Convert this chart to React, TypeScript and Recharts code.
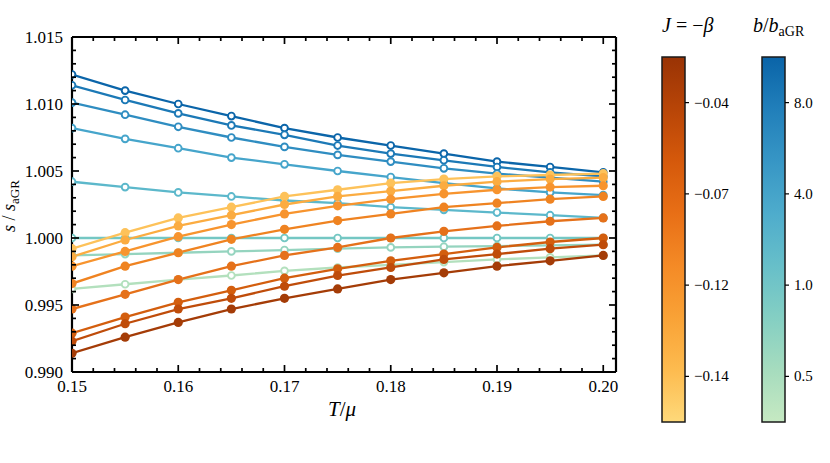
import React from 'react';
import { LineChart, Line, XAxis, YAxis } from 'recharts';

// temperature grid T/mu
const temps = [0.15, 0.155, 0.16, 0.165, 0.17, 0.175, 0.18, 0.185, 0.19, 0.195, 0.2];

// open circles, coloured by b/b_aGR (dark blue -> light green)
const b1 = [1.0122, 1.011, 1.01, 1.0091, 1.0082, 1.0075, 1.0069, 1.0063, 1.0057, 1.0053, 1.0049];
const b2 = [1.0114, 1.0103, 1.0093, 1.0084, 1.0077, 1.0069, 1.0063, 1.0058, 1.0053, 1.0049, 1.0046];
const b3 = [1.0101, 1.0092, 1.0083, 1.0075, 1.0068, 1.0062, 1.0057, 1.0052, 1.0048, 1.0045, 1.0042];
const b4 = [1.0082, 1.0074, 1.0067, 1.006, 1.0055, 1.005, 1.00455, 1.0041, 1.0037, 1.0034, 1.0032];
const b5 = [1.0042, 1.0038, 1.0034, 1.0031, 1.0028, 1.0026, 1.0023, 1.0021, 1.0019, 1.0017, 1.0015];
const b6 = [1.0, 1.0, 1.0, 1.0, 1.0, 1.0, 1.0, 1.0, 1.0, 1.0, 1.0];
const b7 = [0.9987, 0.9988, 0.9989, 0.999, 0.9991, 0.9992, 0.9993, 0.99935, 0.9994, 0.99945, 0.9995];
const b8 = [0.9962, 0.99655, 0.9969, 0.9972, 0.99755, 0.9978, 0.998, 0.9982, 0.9984, 0.99855, 0.9987];

// filled circles, coloured by J = -beta (light yellow -> dark brown)
const j1 = [0.9992, 1.0004, 1.0015, 1.0023, 1.0031, 1.0036, 1.0041, 1.0044, 1.0046, 1.0047, 1.0048];
const j2 = [0.9986, 0.99985, 1.0009, 1.0017, 1.0025, 1.0031, 1.0035, 1.0039, 1.0042, 1.0044, 1.0045];
const j3 = [0.9979, 0.999, 1.0001, 1.001, 1.0018, 1.0024, 1.0029, 1.0033, 1.0036, 1.0038, 1.0039];
const j4 = [0.9966, 0.9979, 0.9989, 0.9999, 1.00065, 1.0013, 1.0018, 1.0023, 1.0026, 1.0029, 1.0031];
const j5 = [0.9947, 0.9958, 0.9969, 0.9979, 0.9987, 0.9993, 1.0, 1.0005, 1.0009, 1.00125, 1.0015];
const j6 = [0.9929, 0.9941, 0.9952, 0.9961, 0.997, 0.9977, 0.9983, 0.9988, 0.9993, 0.9997, 1.0];
const j7 = [0.9923, 0.9936, 0.9947, 0.9955, 0.9964, 0.9972, 0.9978, 0.9984, 0.9988, 0.9992, 0.9995];
const j8 = [0.9914, 0.9926, 0.9937, 0.9947, 0.9955, 0.9962, 0.9969, 0.9974, 0.9979, 0.9983, 0.9987];

const bColors = ['#0b65a9', '#1c79b6', '#2f8dc1', '#46a5cb', '#5cb8cb', '#74c7c3', '#95d4bf', '#b3e0bd'];
const jColors = ['#fdc25a', '#fbac41', '#f7942e', '#ef8321', '#e5711a', '#d35e0e', '#bf4c0a', '#a43c07'];

const xMajor = [0.15, 0.16, 0.17, 0.18, 0.19, 0.2];
const xTickLabels = ['0.15', '0.16', '0.17', '0.18', '0.19', '0.20'];
const yMajor = [0.99, 0.995, 1.0, 1.005, 1.01, 1.015];
const yTickLabels = ['0.990', '0.995', '1.000', '1.005', '1.010', '1.015'];

const jTicks = ['\u22120.04', '\u22120.07', '\u22120.12', '\u22120.14'];
const bTicks = ['8.0', '4.0', '1.0', '0.5'];

const bSeries = [b1, b2, b3, b4, b5, b6, b7, b8];
const jSeries = [j1, j2, j3, j4, j5, j6, j7, j8];

const rows = temps.map((t, i) => {
    const row: Record<string, number> = { T: t };
    bSeries.forEach((s, k) => { row[`b${k}`] = s[i]; });
    jSeries.forEach((s, k) => { row[`j${k}`] = s[i]; });
    return row;
});

// minor ticks every 0.002 on x and 0.001 on y
const xTicks: number[] = [];
for (let k = 0; k <= 25; k++) xTicks.push(+(0.15 + k * 0.002).toFixed(4));
const yTicks: number[] = [];
for (let k = 0; k <= 25; k++) yTicks.push(+(0.99 + k * 0.001).toFixed(4));

const X_DOMAIN: [number, number] = [0.15, 0.2012];
const Y_DOMAIN: [number, number] = [0.99, 1.015];

const majorIndex = (v: number, majors: number[]) => majors.findIndex(m => Math.abs(m - v) < 1e-9);

const FONT = '"Liberation Serif", "DejaVu Serif", serif';

// inward tick marks (drawn by the thin frame axes)
const makeTickMark = (side: 'bottom' | 'top' | 'left' | 'right') => (props: any) => {
    const { x, y, payload } = props;
    const majors = side === 'bottom' || side === 'top' ? xMajor : yMajor;
    const len = majorIndex(payload.value, majors) >= 0 ? 7 : 4;
    let x2 = x, y2 = y;
    if (side === 'bottom') y2 = y - len;
    if (side === 'top') y2 = y + len;
    if (side === 'left') x2 = x + len;
    if (side === 'right') x2 = x - len;
    return <path d={`M${x},${y}L${x2},${y2}`} stroke="#000" strokeWidth={1.7} fill="none" />;
};

const XLabelTick = (props: any) => {
    const { x, y, payload } = props;
    const idx = majorIndex(payload.value, xMajor);
    if (idx < 0) return <g />;
    return <text x={x} y={y + 19} textAnchor="middle" fontFamily={FONT} fontSize={17} fill="#000">{xTickLabels[idx]}</text>;
};

const YLabelTick = (props: any) => {
    const { x, y, payload } = props;
    const idx = majorIndex(payload.value, yMajor);
    if (idx < 0) return <g />;
    return <text x={x - 8} y={y + 6} textAnchor="end" fontFamily={FONT} fontSize={17} fill="#000">{yTickLabels[idx]}</text>;
};

const frameLine = { stroke: '#000', strokeWidth: 2.2 };

const BAR_TOP = 57;
const BAR_H = 365;
const BAR_W = 23;

const ColorBar: React.FC<{ x: number; id: string; stops: string[]; labels: string[] }> = ({ x, id, stops, labels }) => (
    <g>
        <defs>
            <linearGradient id={id} x1="0" y1="0" x2="0" y2="1">
                {stops.map((c, i) => (
                    <stop key={i} offset={i / (stops.length - 1)} stopColor={c} />
                ))}
            </linearGradient>
        </defs>
        <rect x={x} y={BAR_TOP} width={BAR_W} height={BAR_H} fill={`url(#${id})`} stroke="#1a1a1a" strokeWidth={1.5} />
        {labels.map((l, i) => {
            const ty = BAR_TOP + (BAR_H * (2 * i + 1)) / 8;
            return (
                <g key={l}>
                    <line x1={x + BAR_W} y1={ty} x2={x + BAR_W + 4} y2={ty} stroke="#000" strokeWidth={1.2} />
                    <text x={x + BAR_W + 9} y={ty + 5} fontFamily={FONT} fontSize={15} fill="#000">{l}</text>
                </g>
            );
        })}
    </g>
);

const App: React.FC = () => {
    return (
        <div style={{ position: 'absolute', left: 0, top: 0, width: 830, height: 463, background: '#fff' }}>
            <LineChart width={830} height={463} data={rows} margin={{ top: 36, right: 213, left: 13, bottom: 51 }}>
                {/* thin frame axes carrying the inward ticks; the series use these */}
                <XAxis
                    xAxisId="fb" orientation="bottom" dataKey="T" type="number" domain={X_DOMAIN} allowDataOverflow
                    ticks={xTicks} interval={0} tickSize={0} tickMargin={0} height={1}
                    axisLine={frameLine} tickLine={false} tick={makeTickMark('bottom')}
                />
                <XAxis
                    xAxisId="ft" orientation="top" dataKey="T" type="number" domain={X_DOMAIN} allowDataOverflow
                    ticks={xTicks} interval={0} tickSize={0} tickMargin={0} height={1}
                    axisLine={frameLine} tickLine={false} tick={makeTickMark('top')}
                />
                <YAxis
                    yAxisId="fl" orientation="left" type="number" domain={Y_DOMAIN} allowDataOverflow
                    ticks={yTicks} interval={0} tickSize={0} tickMargin={0} width={1}
                    axisLine={frameLine} tickLine={false} tick={makeTickMark('left')}
                />
                <YAxis
                    yAxisId="fr" orientation="right" type="number" domain={Y_DOMAIN} allowDataOverflow
                    ticks={yTicks} interval={0} tickSize={0} tickMargin={0} width={1}
                    axisLine={frameLine} tickLine={false} tick={makeTickMark('right')}
                />
                {/* outer axes that only carry the numbers */}
                <XAxis
                    xAxisId="lb" orientation="bottom" dataKey="T" type="number" domain={X_DOMAIN} allowDataOverflow
                    ticks={xMajor} interval={0} tickSize={0} tickMargin={0} height={39}
                    axisLine={false} tickLine={false} tick={XLabelTick}
                />
                <YAxis
                    yAxisId="ll" orientation="left" type="number" domain={Y_DOMAIN} allowDataOverflow
                    ticks={yMajor} interval={0} tickSize={0} tickMargin={0} width={58}
                    axisLine={false} tickLine={false} tick={YLabelTick}
                />
                {/* invisible series so the helper axes get drawn */}
                <Line xAxisId="ft" yAxisId="fr" dataKey="b5" stroke="none" dot={false} activeDot={false} isAnimationActive={false} />
                <Line xAxisId="lb" yAxisId="ll" dataKey="b5" stroke="none" dot={false} activeDot={false} isAnimationActive={false} />
                {bSeries.map((_, k) => (
                    <Line
                        key={`b${k}`} xAxisId="fb" yAxisId="fl" dataKey={`b${k}`} stroke={bColors[k]} strokeWidth={2.3}
                        dot={{ r: 3.4, fill: '#fff', stroke: bColors[k], strokeWidth: 1.9 }}
                        activeDot={false} isAnimationActive={false}
                    />
                ))}
                {jSeries.map((_, k) => (
                    <Line
                        key={`j${k}`} xAxisId="fb" yAxisId="fl" dataKey={`j${k}`} stroke={jColors[k]} strokeWidth={2.3}
                        dot={{ r: 4.6, fill: jColors[k], stroke: 'none' }}
                        activeDot={false} isAnimationActive={false}
                    />
                ))}
            </LineChart>
            <svg width={830} height={463} style={{ position: 'absolute', left: 0, top: 0, pointerEvents: 'none' }}>
                <text transform="translate(15, 206) rotate(-90)" textAnchor="middle" fontFamily={FONT} fontSize={18} fill="#000">
                    <tspan fontStyle="italic">s</tspan>
                    <tspan> / </tspan>
                    <tspan fontStyle="italic">s</tspan>
                    <tspan fontSize={13} dy={4}>aGR</tspan>
                </text>
                <text x={342} y={416} textAnchor="middle" fontFamily={FONT} fontSize={21} fill="#000">
                    <tspan fontStyle="italic">T</tspan>
                    <tspan>/</tspan>
                    <tspan fontStyle="italic">μ</tspan>
                </text>

                <text x={662} y={32} fontFamily={FONT} fontSize={20} fill="#000">
                    <tspan fontStyle="italic">J</tspan>
                    <tspan> = −</tspan>
                    <tspan fontStyle="italic">β</tspan>
                </text>
                <text x={753} y={32} fontFamily={FONT} fontSize={20} fill="#000">
                    <tspan fontStyle="italic">b</tspan>
                    <tspan>/</tspan>
                    <tspan fontStyle="italic">b</tspan>
                    <tspan fontSize={14} dy={4}>aGR</tspan>
                </text>

                <ColorBar x={662} id="jGrad" labels={jTicks}
                    stops={['#993305', '#b84507', '#d5590b', '#e86f16', '#f48a26', '#f9a236', '#fdbb4f', '#fed97a']} />
                <ColorBar x={762} id="bGrad" labels={bTicks}
                    stops={['#0a64a8', '#217fba', '#3796c5', '#4eaccc', '#67bfc9', '#84cfc3', '#a6dcbe', '#c6e9c2']} />
            </svg>
        </div>
    );
};

export default App;
